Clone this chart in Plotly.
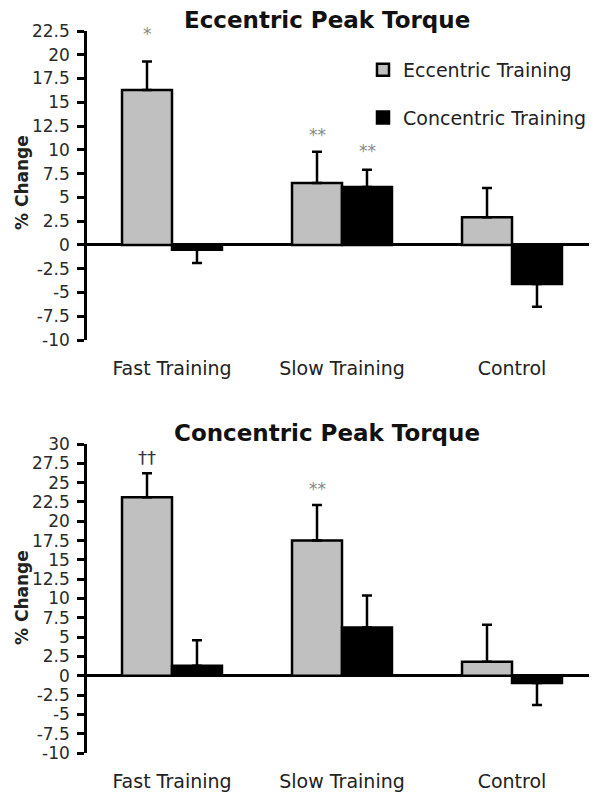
import plotly.graph_objects as go

# Page body has an 8px default margin; figure is sized to fit the 597x793 window.
VW, VH = 597, 793
OFF = 8
W, H = VW - OFF, VH - OFF


def px(X):
    return (X - OFF) / W


def py(Y):
    return (VH - Y) / H


categories = ["Fast Training", "Slow Training", "Control"]
series_names = ["Eccentric Training", "Concentric Training"]

# Eccentric Peak Torque (top panel)
ecc_top = [16.3, 6.5, 2.9]
ecc_top_err_up = [3.0, 3.3, 3.1]
ecc_top_err_dn = [0, 0, 0]
conc_top = [-0.5, 6.1, -4.1]
conc_top_err_up = [0, 1.8, 0]
conc_top_err_dn = [1.4, 0, 2.4]

# Concentric Peak Torque (bottom panel)
ecc_bot = [23.1, 17.5, 1.8]
ecc_bot_err_up = [3.1, 4.6, 4.8]
ecc_bot_err_dn = [0, 0, 0]
conc_bot = [1.3, 6.25, -0.95]
conc_bot_err_up = [3.3, 4.15, 0]
conc_bot_err_dn = [0, 0, 2.85]

top_ticks = [-10, -7.5, -5, -2.5, 0, 2.5, 5, 7.5, 10, 12.5, 15, 17.5, 20, 22.5]
top_ticktext = ["-10", "-7.5", "-5", "-2.5", "0", "2.5", "5", "7.5", "10", "12.5", "15", "17.5", "20", "22.5"]
bot_ticks = [-10, -7.5, -5, -2.5, 0, 2.5, 5, 7.5, 10, 12.5, 15, 17.5, 20, 22.5, 25, 27.5, 30]
bot_ticktext = ["-10", "-7.5", "-5", "-2.5", "0", "2.5", "5", "7.5", "10", "12.5", "15", "17.5", "20", "22.5", "25", "27.5", "30"]

titles = ["Eccentric Peak Torque", "Concentric Peak Torque"]

# significance markers: (panel, category, series index, y value, text)
marks = [
    (1, "Fast Training", 0, 22.2, "*"),
    (1, "Slow Training", 0, 11.6, "**"),
    (1, "Slow Training", 1, 9.9, "**"),
    (2, "Fast Training", 0, 28.3, "††"),
    (2, "Slow Training", 0, 24.2, "**"),
]

FONT = "DejaVu Sans"
colors = ["#c0c0c0", "#000000"]

fig = go.Figure()


def add_panel(vals_e, eu, ed, vals_c, cu, cd, xa, ya, show):
    for i, (v, u, d) in enumerate([(vals_e, eu, ed), (vals_c, cu, cd)]):
        fig.add_trace(go.Bar(
            x=categories, y=v, name=series_names[i],
            marker=dict(color=colors[i], line=dict(color="black", width=2.5)),
            error_y=dict(type="data", symmetric=False, array=u, arrayminus=d,
                         color="black", thickness=2.5, width=5),
            xaxis=xa, yaxis=ya, showlegend=show, legendgroup=series_names[i],
            offsetgroup=str(i),
        ))


add_panel(ecc_top, ecc_top_err_up, ecc_top_err_dn, conc_top, conc_top_err_up, conc_top_err_dn, "x", "y", True)
add_panel(ecc_bot, ecc_bot_err_up, ecc_bot_err_dn, conc_bot, conc_bot_err_up, conc_bot_err_dn, "x2", "y2", False)

xdom = [px(87), 1.0]
top_dom = [py(340), py(31)]
bot_dom = [py(753), py(444)]

xcommon = dict(range=[-0.5, 2.5], showline=False, ticks="", showgrid=False, zeroline=False,
               tickfont=dict(family=FONT, size=19, color="#222222"), ticklabelstandoff=15,
               domain=xdom, automargin=False, fixedrange=True)
ycommon = dict(showline=True, linecolor="black", linewidth=2.5, ticks="outside", ticklen=7,
               tickwidth=2.5, tickcolor="black", showgrid=False, zeroline=True,
               zerolinecolor="black", zerolinewidth=2.5,
               tickfont=dict(family=FONT, size=17, color="#2a2a2a"), ticklabelstandoff=4,
               automargin=False)

fig.update_layout(
    width=W, height=H,
    margin=dict(l=0, r=0, t=0, b=0),
    paper_bgcolor="white", plot_bgcolor="white",
    barmode="group", bargap=0.412, bargroupgap=0,
    xaxis=dict(**xcommon, anchor="y"),
    xaxis2=dict(**xcommon, anchor="y2"),
    yaxis=dict(**ycommon, domain=top_dom, range=[-10, 22.5], tickvals=top_ticks,
               ticktext=top_ticktext, anchor="x"),
    yaxis2=dict(**ycommon, domain=bot_dom, range=[-10, 30], tickvals=bot_ticks,
                ticktext=bot_ticktext, anchor="x2"),
    legend=dict(x=px(363), y=py(51), xanchor="left", yanchor="top",
                font=dict(family=FONT, size=19, color="#222222"),
                tracegroupgap=20, bgcolor="rgba(0,0,0,0)"),
    showlegend=True,
)

ann = []
ann.append(dict(text="<b>" + titles[0] + "</b>", x=px(327), y=py(20), xref="paper", yref="paper",
                showarrow=False, xanchor="center", font=dict(family=FONT, size=23, color="#111111"),
                yanchor="middle"))
ann.append(dict(text="<b>" + titles[1] + "</b>", x=px(327), y=py(433), xref="paper", yref="paper",
                showarrow=False, xanchor="center", font=dict(family=FONT, size=23, color="#111111"),
                yanchor="middle"))
for yc in [183, 598]:
    ann.append(dict(text="<b>% Change</b>", x=px(22), y=py(yc), xref="paper", yref="paper",
                    textangle=-90, showarrow=False, xanchor="center", yanchor="middle",
                    font=dict(family=FONT, size=17, color="#222222")))
for panel, cat, si, yv, txt in marks:
    ann.append(dict(text=txt, x=cat, y=yv, xref="x" if panel == 1 else "x2",
                    yref="y" if panel == 1 else "y2", xshift=-25 if si == 0 else 25,
                    showarrow=False, yanchor="middle", xanchor="center",
                    font=dict(family=FONT, size=17 if txt != "††" else 18,
                              color="#888888" if txt != "††" else "#333333")))
fig.update_layout(annotations=ann)

fig.write_html("out.html")
